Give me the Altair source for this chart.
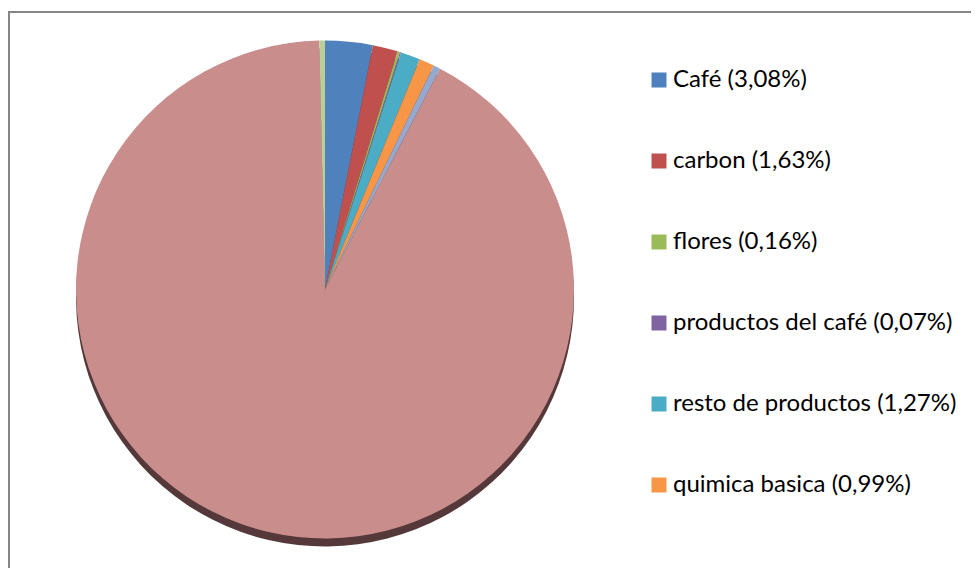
import altair as alt
import pandas as pd

categories = ["Café", "carbon", "flores", "productos del café", "resto de productos",
              "quimica basica", "otros productos", "petroleo", "otros"]
shares = [3.08, 1.63, 0.16, 0.07, 1.27, 0.99, 0.45, 91.98, 0.37]
pct_text = ["3,08%", "1,63%", "0,16%", "0,07%", "1,27%", "0,99%", "0,45%", "91,98%", "0,37%"]
colors = ["#4F81BD", "#C0504D", "#9BBB59", "#8064A2", "#4BACC6", "#F79646",
          "#95A9D0", "#C98D8C", "#BACF96"]
n_legend = 6

labels = [f"{c} ({p})" for c, p in zip(categories, pct_text)]
df = pd.DataFrame({"label": labels, "share": shares, "idx": list(range(len(labels)))})

R = 249
base = alt.Chart(df)

shadow = base.mark_arc(outerRadius=R, yOffset=8, color="#55393A").encode(
    theta=alt.Theta("share:Q", stack=True),
    order=alt.Order("idx:Q"),
)

pie = base.mark_arc(outerRadius=R).encode(
    theta=alt.Theta("share:Q", stack=True),
    order=alt.Order("idx:Q"),
    color=alt.Color(
        "label:N",
        sort=labels,
        scale=alt.Scale(domain=labels, range=colors),
        legend=alt.Legend(
            values=labels[:n_legend],
            orient="none",
            legendX=639,
            legendY=57,
            title=None,
            padding=0,
            symbolType="square",
            symbolSize=225,
            symbolStrokeWidth=0,
            labelFont="Lato",
            labelFontSize=24,
            labelFontWeight="normal",
            labelColor="#000000",
            labelOffset=2,
            rowPadding=57,
            labelLimit=400,
        ),
    ),
)

frame = alt.Chart(pd.DataFrame({"a": [0]})).mark_rect(
    filled=False, stroke="#868686", strokeWidth=2
).encode(x=alt.value(1), x2=alt.value(1500), y=alt.value(1), y2=alt.value(1500))

chart = alt.layer(frame, shadow, pie).properties(
    width=634,
    height=557,
    padding={"left": 0, "top": 3, "right": 329, "bottom": 0},
    autosize="none",
).configure_view(stroke=None)

chart.save("out.html", embed_options={"renderer": "svg", "actions": False})
